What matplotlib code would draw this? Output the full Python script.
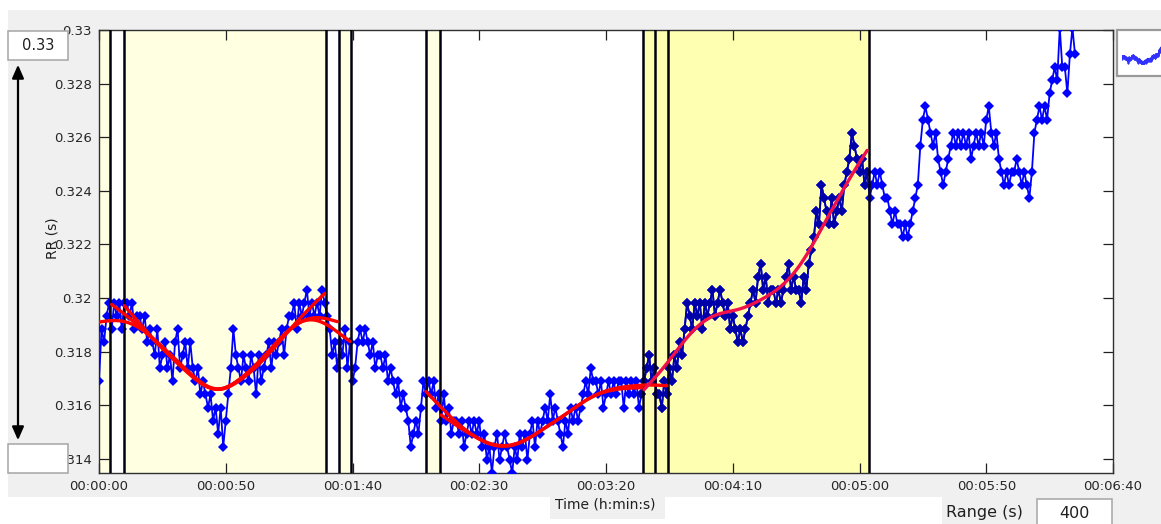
import numpy as np
import matplotlib
matplotlib.use("Agg")
import matplotlib.pyplot as plt
from matplotlib.patches import Rectangle, FancyArrowPatch

# RR intervals, one reading per second, in counts of the 2048 Hz recorder clock
rr_ticks = [
    649, 653, 652, 654, 655, 653, 655, 654, 655, 653,
    655, 655, 654, 655, 653, 654, 654, 653, 654, 652,
    653, 652, 651, 653, 650, 651, 652, 650, 651, 649,
    652, 653, 650, 651, 652, 650, 652, 650, 649, 650,
    648, 649, 648, 647, 648, 646, 647, 645, 647, 644,
    646, 648, 650, 653, 651, 650, 649, 651, 650, 649,
    651, 650, 648, 651, 649, 650, 651, 652, 650, 652,
    651, 652, 653, 651, 653, 654, 654, 655, 653, 655,
    654, 655, 656, 654, 655, 654, 655, 654, 656, 655,
    654, 653, 651, 652, 650, 652, 651, 653, 650, 652,
    649, 650, 652, 653, 652, 653, 652, 651, 652, 650,
    651, 651, 650, 651, 649, 650, 649, 648, 649, 647,
    648, 647, 646, 644, 645, 646, 645, 647, 649, 648,
    649, 648, 649, 647, 648, 646, 648, 646, 647, 645,
    646, 646, 645, 646, 644, 645, 646, 645, 646, 645,
    646, 644, 645, 643, 644, 642, 644, 645, 643, 644,
    645, 644, 643, 642, 644, 643, 645, 644, 645, 643,
    645, 646, 644, 646, 645, 646, 647, 646, 648, 646,
    647, 646, 645, 644, 646, 645, 647, 646, 647, 646,
    647, 648, 649, 648, 650, 649, 649, 648, 649, 647,
    648, 649, 648, 649, 648, 649, 649, 647, 649, 648,
    649, 648, 649, 647, 648, 649, 650, 651, 649, 650,
    648, 648, 647, 649, 648, 650, 649, 651, 650, 652,
    651, 653, 655, 654, 653, 655, 654, 655, 653, 655,
    654, 655, 656, 654, 655, 656, 655, 654, 655, 653,
    654, 653, 652, 653, 652, 653, 654, 655, 656, 655,
    657, 658, 656, 657, 655, 656, 656, 655, 656, 655,
    656, 657, 658, 656, 657, 656, 656, 655, 657, 656,
    658, 659, 660, 662, 661, 664, 663, 662, 661, 663,
    661, 662, 663, 662, 664, 665, 666, 668, 667, 666,
    665, 666, 664, 665, 663, 664, 665, 664, 665, 664,
    663, 663, 662, 661, 662, 661, 661, 660, 661, 660,
    661, 662, 663, 664, 667, 669, 670, 669, 668, 667,
    668, 666, 665, 664, 665, 666, 667, 668, 667, 668,
    667, 668, 667, 668, 666, 667, 668, 667, 668, 667,
    669, 670, 668, 667, 668, 666, 665, 664, 665, 664,
    665, 665, 666, 665, 664, 665, 664, 663, 665, 668,
    669, 670, 669, 670, 669, 671, 672, 673, 672, 676,
    673, 673, 671, 674, 676, 674,
]
CLOCK_HZ = 2048
SAMPLE_STEP_S = 1.0

# Sample boundaries (s) and analysis windows
marker_lines = [4.5, 9.9, 89.4, 94.6, 99.6, 129.0, 134.5, 214.6, 219.5, 224.6, 303.8]
pale_spans = [(0.0, 4.5), (9.9, 89.4), (94.6, 99.6), (129.0, 134.5)]
active_span = (214.6, 303.8)
trend_windows = [(0.0, 94.6), (4.5, 89.4), (9.9, 99.6),
                 (129.0, 214.6), (134.5, 224.6), (214.6, 303.8)]
TREND_LAMBDA = 60.0

x_ticks = [0, 50, 100, 150, 200, 250, 300, 350, 400]
x_tick_labels = ["00:00:00", "00:00:50", "00:01:40", "00:02:30", "00:03:20",
                 "00:04:10", "00:05:00", "00:05:50", "00:06:40"]
y_ticks = [0.314, 0.316, 0.318, 0.320, 0.322, 0.324, 0.326, 0.328, 0.330]
y_tick_labels = ["0.314", "0.316", "0.318", "0.32", "0.322", "0.324",
                 "0.326", "0.328", "0.33"]
range_s = 400
y_top_value = "0.33"

rr = np.array(rr_ticks) / CLOCK_HZ
t = np.arange(len(rr)) * SAMPLE_STEP_S


def smoothness_priors_trend(z, lam):
    n = len(z)
    d2 = np.diff(np.eye(n), 2, axis=0)
    return np.linalg.solve(np.eye(n) + lam ** 2 * d2.T @ d2, z)


W, H = 1161, 524
fig = plt.figure(figsize=(W / 100, H / 100), dpi=100, facecolor="white")


def fx(px):
    return px / W


def fy(py):
    return 1 - py / H


def fig_rect(x0, y0, x1, y1, **kw):
    r = Rectangle((fx(x0), fy(y1)), fx(x1) - fx(x0), fy(y0) - fy(y1),
                  transform=fig.transFigure, **kw)
    fig.patches.append(r)
    return r


panel = "#F0F0F0"
fig_rect(8, 10, 1161, 497, facecolor=panel, edgecolor="none", zorder=-10)
fig_rect(550, 496, 665, 519, facecolor=panel, edgecolor="none", zorder=-10)
fig_rect(942, 496, 1161, 524, facecolor=panel, edgecolor="none", zorder=-10)

ax = fig.add_axes([fx(99), fy(473), fx(1113) - fx(99), fy(30) - fy(473)])
ax.set_zorder(1)
ax.set_facecolor("white")

for a, b in pale_spans:
    ax.axvspan(a, b, color="#FFFFE2", lw=0, zorder=0)
ax.axvspan(*active_span, color="#FFFFB2", lw=0, zorder=0)

style = dict(lw=1.3, marker="D", ms=4.6, mew=0)
ax.plot(t, rr, color="#0000FF", zorder=3, **style)
sel = (t >= active_span[0] - 1) & (t <= active_span[1])
ax.plot(t[sel], rr[sel], color="#0000A8", zorder=3.2, **style)

for x in marker_lines:
    ax.axvline(x, color="#000010", lw=1.8, zorder=4)

for a, b in trend_windows:
    m = (t >= a) & (t <= b)
    trend = smoothness_priors_trend(rr[m], TREND_LAMBDA)
    col = "#F0104A" if a >= active_span[0] else "#FF0000"
    ax.plot(t[m], trend, color=col, lw=2.4, solid_capstyle="round", zorder=5)

ax.set_xlim(0, 400)
ax.set_ylim(642 / CLOCK_HZ, 0.330)
ax.set_xticks(x_ticks)
ax.set_xticklabels(x_tick_labels)
ax.set_yticks(y_ticks)
ax.set_yticklabels(y_tick_labels)
ax.tick_params(direction="in", length=7, width=0.9, top=True, right=True,
               color="#202020", labelcolor="#262626", labelsize=9.5, pad=5)
for s in ax.spines.values():
    s.set_color("#303030")
    s.set_linewidth(1.0)

fig.text(fx(52), fy(238), "RR (s)", rotation=90, ha="center", va="center",
         fontsize=10, color="#202020", zorder=5)
fig.text(fx(605), fy(504), "Time (h:min:s)", ha="center", va="center",
         fontsize=10, color="#202020")

# upper / lower value boxes and the span arrow on the left
fig_rect(8, 31, 68, 60, facecolor="white", edgecolor="#ABABAB", lw=1.2, zorder=6)
fig.text(fx(38), fy(46), y_top_value, ha="center", va="center", fontsize=10.5,
         color="#202020", zorder=7)
fig_rect(8, 444, 68, 473, facecolor="white", edgecolor="#ABABAB", lw=1.2, zorder=6)
arrow = FancyArrowPatch((fx(18), fy(62)), (fx(18), fy(443)),
                        transform=fig.transFigure,
                        arrowstyle="<|-|>,head_length=0.5,head_width=0.22",
                        mutation_scale=16, color="black", lw=1.6, zorder=6)
fig.patches.append(arrow)

# range control
fig.text(fx(946), fy(513), "Range (s)", ha="left", va="center", fontsize=11.5,
         color="#202020")
fig_rect(1037, 499, 1112, 526, facecolor="white", edgecolor="#ABABAB", lw=1.2, zorder=2)
fig.text(fx(1074), fy(513), str(range_s), ha="center", va="center", fontsize=11.5,
         color="#202020", zorder=3)

# overview thumbnail
fig_rect(1117, 30, 1168, 76, facecolor="white", edgecolor="#9A9A9A", lw=1.6, zorder=2)
thumb = fig.add_axes([fx(1122), fy(64), fx(1172) - fx(1122), fy(42) - fy(64)])
thumb.set_zorder(8)
thumb.patch.set_alpha(0)
thumb.plot(t, rr, color="#3030FF", lw=0.7, marker="D", ms=1.4, mew=0)
thumb.set_xlim(t[0], t[-1])
thumb.set_ylim(rr.min(), rr.max())
thumb.axis("off")

fig.savefig("out.png", dpi=100, facecolor=fig.get_facecolor())
